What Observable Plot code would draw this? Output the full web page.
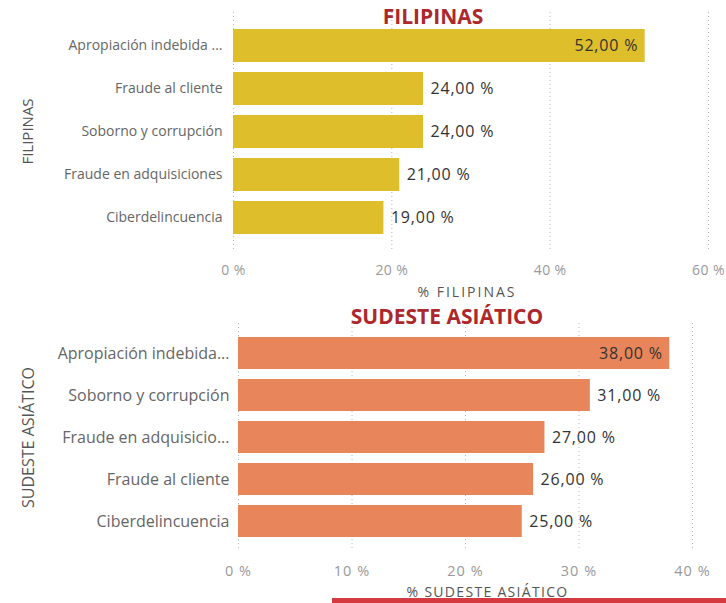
<!DOCTYPE html>
<html>
<head>
<meta charset="utf-8">
<script src="https://cdn.jsdelivr.net/npm/d3@7"></script>
<script src="https://cdn.jsdelivr.net/npm/@observablehq/plot@0.6"></script>
<style>
  html, body { margin: 0; padding: 0; background: #fff; }
  #root { position: relative; width: 726px; height: 603px; overflow: hidden; font-family: 'Open Sans', 'Noto Sans', sans-serif; }
  .panel { position: absolute; left: 0; }
  .title { position: absolute; font-weight: 700; font-size: 21px; color: #AC282C; white-space: nowrap; transform: translate(-50%, -50%); line-height: 1; }
  .redline { position: absolute; background: #D43A40; }
  #panelTop g[aria-label="x-axis tick label"] text { letter-spacing: 0.4px; }
  #panelBot g[aria-label="x-axis tick label"] text { letter-spacing: 1px; }
  #panelTop .axlab text { letter-spacing: 2px; }
  #panelBot .axlab text { letter-spacing: 1.3px; }
  .vlab text { letter-spacing: 0.8px; }
</style>
</head>
<body>
<div id="root"></div>
<script>
// ---- Data ----
const filipinasCategories = ["Apropiación indebida ...", "Fraude al cliente", "Soborno y corrupción", "Fraude en adquisiciones", "Ciberdelincuencia"];
const filipinasValues = [52, 24, 24, 21, 19];
const filipinasTicks = [0, 20, 40, 60];

const sudesteCategories = ["Apropiación indebida...", "Soborno y corrupción", "Fraude en adquisicio...", "Fraude al cliente", "Ciberdelincuencia"];
const sudesteValues = [38, 31, 27, 26, 25];
const sudesteTicks = [0, 10, 20, 30, 40];

const fmtValue = v => v.toFixed(2).replace(".", ",") + " %";
const fmtTick = v => v + " %";

function makeChart(o) {
  const data = o.categories.map((c, i) => ({category: c, value: o.values[i]}));
  const maxV = d3.max(o.values);
  return Plot.plot({
    width: 726,
    height: o.height,
    marginTop: o.marginTop, marginBottom: o.marginBottom, marginLeft: o.marginLeft, marginRight: o.marginRight,
    style: {fontFamily: "'Open Sans', 'Noto Sans', sans-serif", fontSize: "12px", background: "transparent", overflow: "visible"},
    x: {domain: [o.ticks[0], o.ticks[o.ticks.length - 1]]},
    y: {domain: o.categories, paddingInner: o.padInner, paddingOuter: o.padOuter},
    marks: [
      Plot.gridX(o.ticks, {stroke: "#b8b8b8", strokeOpacity: 1, strokeDasharray: "1,3"}),
      Plot.barX(data, {x: "value", y: "category", fill: o.color}),
      Plot.text(data.filter(d => d.value !== maxV), {x: "value", y: "category", text: d => fmtValue(d.value), textAnchor: "start", dx: 7, fill: "#333", fontSize: o.valueSize, className: "vlab"}),
      Plot.text(data.filter(d => d.value === maxV), {x: "value", y: "category", text: d => fmtValue(d.value), textAnchor: "end", dx: -7, fill: "#333", fontSize: o.valueSize, className: "vlab"}),
      Plot.axisX({ticks: o.ticks, tickSize: 0, tickPadding: o.tickPadding, tickFormat: fmtTick, fill: "#999", fontSize: o.tickSize, label: null}),
      Plot.text([o.axisLabel], {frameAnchor: "bottom", dx: o.axisLabelDx, dy: o.labelOffsetY, lineAnchor: "middle", text: d => d,
        fill: "#555", fontSize: o.axisLabelSize, className: "axlab"}),
      Plot.axisY({tickSize: 0, tickPadding: o.yPadding, fill: "#666", fontSize: o.ySize, label: null}),
      Plot.text([o.sideLabel], {frameAnchor: "left", dx: -(o.marginLeft - 28), rotate: -90, text: d => d, fill: "#555", fontSize: o.sideSize, textAnchor: "middle"})
    ]
  });
}

const root = document.getElementById("root");

const top1 = document.createElement("div");
top1.className = "panel"; top1.id = "panelTop"; top1.style.top = "0px";
top1.appendChild(makeChart({
  categories: filipinasCategories, values: filipinasValues, ticks: filipinasTicks,
  color: "#DFBE2B", axisLabel: "% FILIPINAS", sideLabel: "FILIPINAS",
  height: 306, marginTop: 12, marginBottom: 56, marginLeft: 233, marginRight: 18,
  padInner: 0.237, padOuter: 0.37, labelOffsetY: 42, tickPadding: 15,
  valueSize: 16, tickSize: 14, axisLabelSize: 14, axisLabelDx: -4,
  ySize: 14, yPadding: 11, sideSize: 15
}));
root.appendChild(top1);

const bot = document.createElement("div");
bot.className = "panel"; bot.id = "panelBot"; bot.style.top = "300px";
bot.appendChild(makeChart({
  categories: sudesteCategories, values: sudesteValues, ticks: sudesteTicks,
  color: "#E8855A", axisLabel: "% SUDESTE ASIÁTICO", sideLabel: "SUDESTE ASIÁTICO",
  height: 303, marginTop: 23, marginBottom: 52, marginLeft: 238, marginRight: 34,
  padInner: 0.238, padOuter: 0.33, labelOffsetY: 41, tickPadding: 14,
  valueSize: 16, tickSize: 14.5, axisLabelSize: 14, axisLabelDx: 22,
  ySize: 16, yPadding: 9, sideSize: 16
}));
root.appendChild(bot);

const t1 = document.createElement("div");
t1.className = "title"; t1.textContent = "FILIPINAS";
t1.style.left = "433px"; t1.style.top = "16px";
root.appendChild(t1);

const t2 = document.createElement("div");
t2.className = "title"; t2.textContent = "SUDESTE ASIÁTICO";
t2.style.left = "447px"; t2.style.top = "316px";
root.appendChild(t2);

const rl = document.createElement("div");
rl.className = "redline"; rl.style.left = "332px"; rl.style.width = "394px"; rl.style.top = "598px"; rl.style.height = "5px";
root.appendChild(rl);
</script>
</body>
</html>
